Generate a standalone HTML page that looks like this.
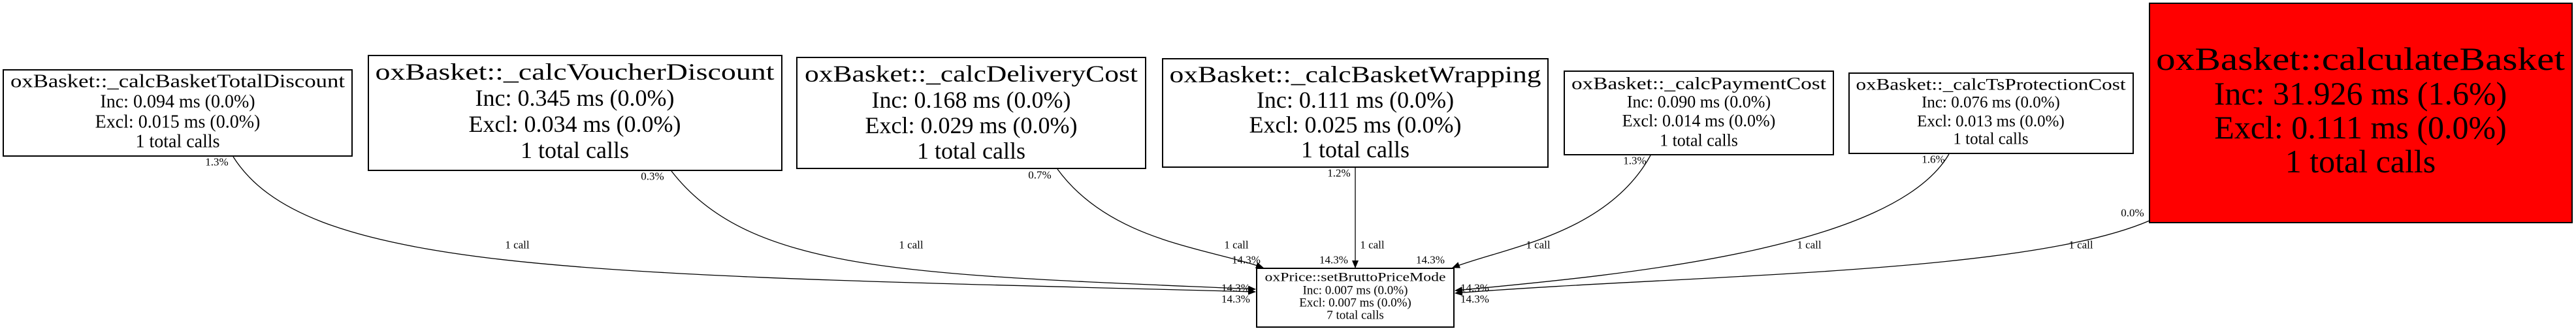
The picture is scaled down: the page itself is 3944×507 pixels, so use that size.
<!DOCTYPE html>
<html><head><meta charset="utf-8"><style>
html,body{margin:0;padding:0;background:#fff;}
svg{display:block;}
text{font-family:"Liberation Serif",serif;fill:#000;}
</style></head><body>
<svg width="3944" height="507" viewBox="0 0 3944 507" xmlns="http://www.w3.org/2000/svg">
<defs>
<marker id="a" markerWidth="12" markerHeight="10" refX="11" refY="5" orient="auto" markerUnits="userSpaceOnUse">
<path d="M0,0 L12,5 L0,10 z" fill="#000"/>
</marker>
</defs>
<g fill="none" stroke="#000" stroke-width="1.3">
<path d="M357,240 C470,420 900,420 1922,447" marker-end="url(#a)"/>
<path d="M1028,262 C1150,420 1400,420 1922,443" marker-end="url(#a)"/>
<path d="M1619,259 C1700,370 1850,380 1934,410" marker-end="url(#a)"/>
<path d="M2075,257 L2075,410" marker-end="url(#a)"/>
<path d="M2527,238 C2460,360 2300,380 2224,410" marker-end="url(#a)"/>
<path d="M2984,236 C2900,380 2500,420 2228,445" marker-end="url(#a)"/>
<path d="M3291,338 C3100,420 2600,420 2228,449" marker-end="url(#a)"/>
</g>
<g stroke="#000" stroke-width="2">
<rect x="5" y="107" width="534" height="132" fill="#fff"/>
<rect x="564" y="85" width="633" height="176" fill="#fff"/>
<rect x="1220" y="88" width="534" height="170" fill="#fff"/>
<rect x="1780" y="90" width="590" height="166" fill="#fff"/>
<rect x="2395" y="109" width="412" height="128" fill="#fff"/>
<rect x="2831" y="112" width="435" height="123" fill="#fff"/>
<rect x="3291" y="5" width="647" height="336" fill="#ff0000"/>
<rect x="1924" y="411" width="302" height="90" fill="#fff"/>
</g>
<g text-anchor="middle" dominant-baseline="central">
<g font-size="28">
<text x="272" y="125" textLength="512" lengthAdjust="spacingAndGlyphs">oxBasket::_calcBasketTotalDiscount</text>
<text x="272" y="156">Inc: 0.094 ms (0.0%)</text>
<text x="272" y="187">Excl: 0.015 ms (0.0%)</text>
<text x="272" y="217">1 total calls</text>
</g>
<g font-size="36">
<text x="880" y="110" textLength="611" lengthAdjust="spacingAndGlyphs">oxBasket::_calcVoucherDiscount</text>
<text x="880" y="150">Inc: 0.345 ms (0.0%)</text>
<text x="880" y="190">Excl: 0.034 ms (0.0%)</text>
<text x="880" y="230">1 total calls</text>
<text x="1487" y="113" textLength="510" lengthAdjust="spacingAndGlyphs">oxBasket::_calcDeliveryCost</text>
<text x="1487" y="153">Inc: 0.168 ms (0.0%)</text>
<text x="1487" y="192">Excl: 0.029 ms (0.0%)</text>
<text x="1487" y="231">1 total calls</text>
<text x="2075" y="114" textLength="569" lengthAdjust="spacingAndGlyphs">oxBasket::_calcBasketWrapping</text>
<text x="2075" y="153">Inc: 0.111 ms (0.0%)</text>
<text x="2075" y="191">Excl: 0.025 ms (0.0%)</text>
<text x="2075" y="229">1 total calls</text>
</g>
<g font-size="26">
<text x="2601" y="128" textLength="390" lengthAdjust="spacingAndGlyphs">oxBasket::_calcPaymentCost</text>
<text x="2601" y="156">Inc: 0.090 ms (0.0%)</text>
<text x="2601" y="185">Excl: 0.014 ms (0.0%)</text>
<text x="2601" y="215">1 total calls</text>
</g>
<g font-size="25">
<text x="3048" y="130" textLength="413" lengthAdjust="spacingAndGlyphs">oxBasket::_calcTsProtectionCost</text>
<text x="3048" y="157">Inc: 0.076 ms (0.0%)</text>
<text x="3048" y="186">Excl: 0.013 ms (0.0%)</text>
<text x="3048" y="213">1 total calls</text>
</g>
<g font-size="50">
<text x="3614" y="90" textLength="626" lengthAdjust="spacingAndGlyphs">oxBasket::calculateBasket</text>
<text x="3614" y="143">Inc: 31.926 ms (1.6%)</text>
<text x="3614" y="195">Excl: 0.111 ms (0.0%)</text>
<text x="3614" y="247">1 total calls</text>
</g>
<g font-size="19">
<text x="2075" y="425" textLength="277" lengthAdjust="spacingAndGlyphs">oxPrice::setBruttoPriceMode</text>
<text x="2075" y="445">Inc: 0.007 ms (0.0%)</text>
<text x="2075" y="464">Excl: 0.007 ms (0.0%)</text>
<text x="2075" y="483">7 total calls</text>
</g>
<g font-size="17">
<text x="332" y="248">1.3%</text>
<text x="792" y="375">1 call</text>
<text x="999" y="270">0.3%</text>
<text x="1395" y="375">1 call</text>
<text x="1592" y="268">0.7%</text>
<text x="1893" y="375">1 call</text>
<text x="1908" y="398">14.3%</text>
<text x="2050" y="265">1.2%</text>
<text x="2101" y="375">1 call</text>
<text x="2042" y="398">14.3%</text>
<text x="2503" y="246">1.3%</text>
<text x="2355" y="375">1 call</text>
<text x="2190" y="398">14.3%</text>
<text x="2960" y="244">1.6%</text>
<text x="2770" y="375">1 call</text>
<text x="3265" y="326">0.0%</text>
<text x="3186" y="375">1 call</text>
<text x="1892" y="441">14.3%</text>
<text x="1892" y="458">14.3%</text>
<text x="2258" y="441">14.3%</text>
<text x="2258" y="458">14.3%</text>
</g>
</g>
</svg>
</body></html>
